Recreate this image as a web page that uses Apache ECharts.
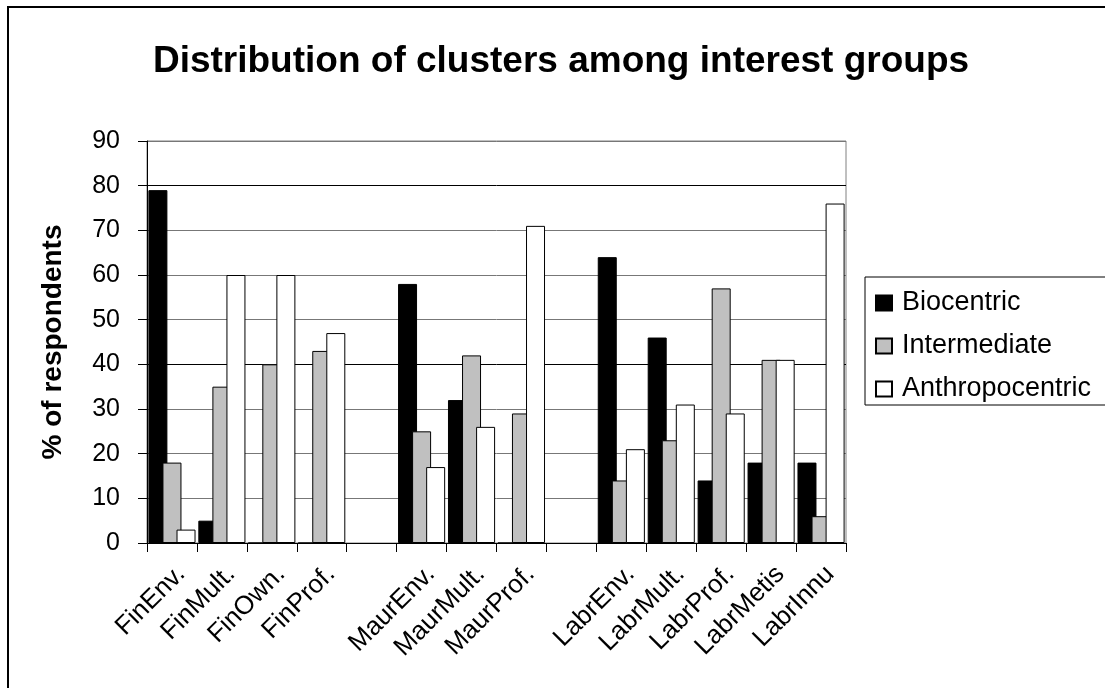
<!DOCTYPE html>
<html>
<head>
<meta charset="utf-8">
<title>Distribution of clusters among interest groups</title>
<script src="https://cdn.jsdelivr.net/npm/echarts@6/dist/echarts.min.js"></script>
<style>
  html, body { margin: 0; padding: 0; background: #fff; }
  #chart { width: 1105px; height: 688px; }
</style>
</head>
<body>
<div id="chart"></div>
<script>
// Interest groups (empty strings separate the Fin / Maur / Labr blocks)
const categories = ['FinEnv.', 'FinMult.', 'FinOwn.', 'FinProf.', '',
  'MaurEnv.', 'MaurMult.', 'MaurProf.', '',
  'LabrEnv.', 'LabrMult.', 'LabrProf.', 'LabrMetis', 'LabrInnu'];

// % of respondents in each cluster ('-' = no bar)
const biocentric      = [79, 5, 0, 0, '-', 58, 32, 0, '-', 64, 46, 14, 18, 18];
const intermediate    = [18, 35, 40, 43, '-', 25, 42, 29, '-', 14, 23, 57, 41, 6];
const anthropocentric = [3, 60, 60, 47, '-', 17, 26, 71, '-', 21, 31, 29, 41, 76];

const yTicks = { min: 0, max: 90, interval: 10 };

const FONT = "'Liberation Sans', Arial, sans-serif";

const chart = echarts.init(document.getElementById('chart'), null, { renderer: 'canvas' });

function barSeries(name, data, color) {
  return {
    name: name,
    type: 'bar',
    data: data,
    barWidth: 19,
    barGap: '-26%',
    itemStyle: { color: color, borderColor: '#000', borderWidth: 1 },
    emphasis: { disabled: true },
    animation: false
  };
}

chart.setOption({
  animation: false,
  backgroundColor: '#fff',
  textStyle: { fontFamily: FONT },
  title: {
    text: 'Distribution of clusters among interest groups',
    left: 561,
    top: 43,
    textAlign: 'center',
    padding: 0,
    textStyle: { fontFamily: FONT, fontSize: 37, fontWeight: 'bold', color: '#000' }
  },
  graphic: [{
    type: 'rect',
    silent: true,
    z: -1,
    shape: { x: 8, y: 7, width: 1200, height: 800 },
    style: { fill: null, stroke: '#000', lineWidth: 2 }
  }],
  legend: {
    orient: 'vertical',
    left: 865,
    top: 277,
    padding: [12, 16, 2, 10],
    itemGap: 15,
    itemWidth: 16,
    itemHeight: 15,
    icon: 'rect',
    borderColor: '#000',
    borderWidth: 1,
    selectedMode: false,
    textStyle: { fontFamily: FONT, fontSize: 27, color: '#000', lineHeight: 28, padding: [0, 0, 0, 5] },
    data: ['Biocentric', 'Intermediate', 'Anthropocentric']
  },
  grid: {
    left: 147,
    top: 141,
    width: 699,
    height: 402,
    show: true,
    borderColor: '#808080',
    borderWidth: 1,
    containLabel: false
  },
  xAxis: {
    type: 'category',
    data: categories,
    boundaryGap: true,
    axisLine: { lineStyle: { color: '#000', width: 1 } },
    axisTick: { show: true, alignWithLabel: false, interval: 0, length: 9, lineStyle: { color: '#000' } },
    axisLabel: {
      interval: 0,
      rotate: 45,
      margin: 18,
      verticalAlign: 'top',
      fontFamily: FONT,
      fontSize: 26,
      color: '#000'
    },
    splitLine: { show: false }
  },
  yAxis: {
    type: 'value',
    min: yTicks.min,
    max: yTicks.max,
    interval: yTicks.interval,
    name: '% of respondents',
    nameLocation: 'middle',
    nameGap: 80,
    nameTextStyle: { fontFamily: FONT, fontSize: 28, fontWeight: 'bold', color: '#000' },
    axisLine: { show: true, lineStyle: { color: '#000', width: 1 } },
    axisTick: { show: true, length: 9, lineStyle: { color: '#000' } },
    axisLabel: { margin: 27, fontFamily: FONT, fontSize: 25, color: '#000' },
    splitLine: { show: true, lineStyle: { color: ['#000', '#777', '#777', '#777'], width: 1 } }
  },
  series: [
    barSeries('Biocentric', biocentric, '#000000'),
    barSeries('Intermediate', intermediate, '#c0c0c0'),
    barSeries('Anthropocentric', anthropocentric, '#ffffff')
  ]
});
</script>
</body>
</html>
